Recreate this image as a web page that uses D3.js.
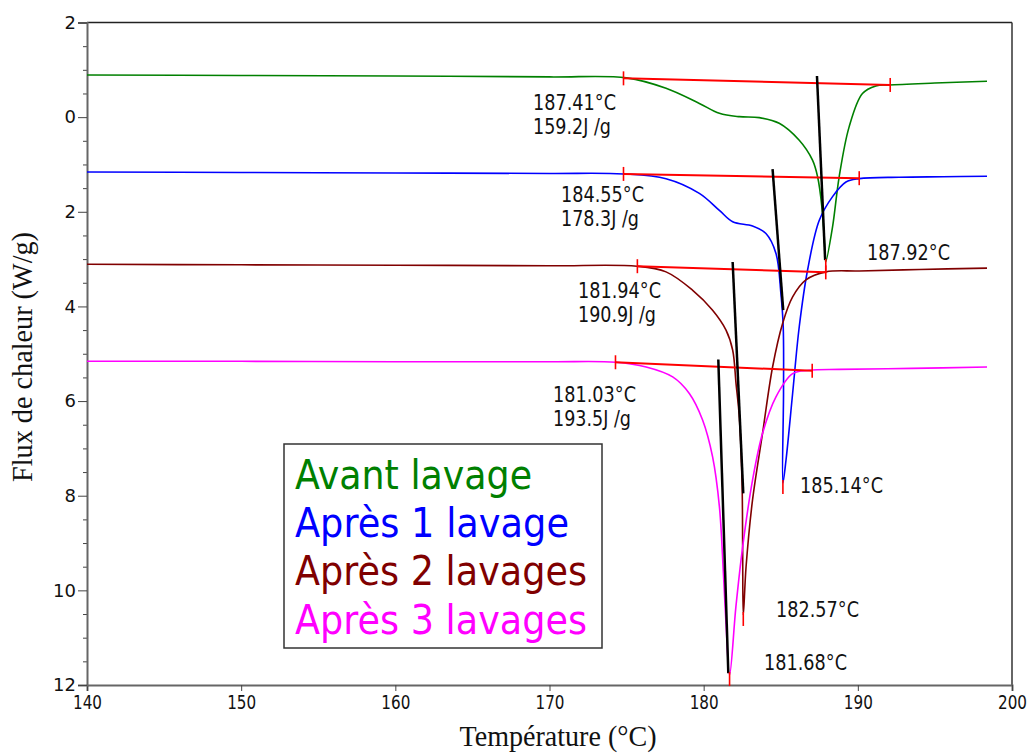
<!DOCTYPE html>
<html>
<head>
<meta charset="utf-8">
<script src="https://cdn.jsdelivr.net/npm/d3@7"></script>
<style>
  body { margin: 0; background: #fff; }
  svg { display: block; }
</style>
</head>
<body>
<div id="chart"></div>
<script>
// ----- data (temperature °C, heat flow W/g; flux axis drawn downward) -----
const avantPts = [
  [140, -0.89], [150, -0.88], [160, -0.87], [170, -0.85], [175, -0.83],
  [177.56, -0.61], [179.72, -0.29], [181.02, -0.08],
  [182.31, -0.01], [183.61, 0.01], [184.9, 0.13], [186.2, 0.49], [187.06, 0.91],
  [187.39, 1.26], [187.67, 1.9], [187.88, 2.87], [187.92, 3.06], [188.36, 2.32],
  [188.79, 1.26], [189.44, 0.2], [190.3, -0.5], [191.17, -0.66], [192.03, -0.68],
  [195, -0.72], [198.38, -0.76]
];
const apres1Pts = [
  [140, 1.16], [150, 1.17], [160, 1.18], [170, 1.19], [174.8, 1.2],
  [177.56, 1.3], [179.72, 1.61], [181.02, 1.97],
  [181.88, 2.21], [183.17, 2.3], [184.04, 2.46], [184.69, 2.88], [185.01, 3.73],
  [185.16, 4.43], [185.18, 5.83], [185.14, 7.73], [185.34, 7.25], [185.77, 5.84],
  [186.2, 4.43], [186.74, 3.23], [187.5, 2.18], [188.36, 1.68], [189.23, 1.37],
  [190.09, 1.3], [192.68, 1.27], [195.5, 1.26], [198.38, 1.25]
];
const apres2Pts = [
  [140, 3.11], [150, 3.12], [160, 3.13], [170, 3.14], [175.68, 3.15],
  [177.56, 3.27], [179.29, 3.66], [180.58, 4.08],
  [181.45, 4.5], [181.88, 4.92], [182.1, 5.63], [182.31, 6.33], [182.49, 7.74],
  [182.53, 9.15], [182.57, 10.52], [182.75, 9.5], [183.17, 8.09], [183.82, 6.68],
  [184.47, 5.28], [185.12, 4.36], [185.77, 3.8], [186.63, 3.44], [187.93, 3.27],
  [190.09, 3.25], [194, 3.22], [198.38, 3.19]
];
const apres3Pts = [
  [140, 5.16], [150, 5.16], [160, 5.17], [170, 5.17], [174.28, 5.18],
  [176.27, 5.28], [177.99, 5.49], [179.07, 5.84],
  [179.93, 6.4], [180.58, 7.18], [181.02, 8.23], [181.28, 9.64], [181.45, 10.7],
  [181.68, 11.79], [182.09, 10.35], [182.53, 9.08], [183.17, 7.67], [183.82, 6.68],
  [184.69, 5.91], [185.77, 5.42], [186.85, 5.35], [188.79, 5.33], [193.5, 5.31],
  [198.38, 5.28]
];

const seriesNames = ["Avant lavage", "Après 1 lavage", "Après 2 lavages", "Après 3 lavages"];
const seriesColors = ["#008000", "#0000ff", "#800000", "#ff00ff"];
const seriesPts = [avantPts, apres1Pts, apres2Pts, apres3Pts];

// integration baselines [T1, v1, T2, v2]
const baselines = [
  [174.8, -0.82, 192.1, -0.68],
  [174.8, 1.2, 190.09, 1.29],
  [175.7, 3.15, 187.92, 3.28],
  [174.28, 5.18, 187.04, 5.36]
];
// onset tangents [T1, v1, T2, v2]
const tangents = [
  [187.35, -0.87, 187.88, 3.02],
  [184.47, 1.1, 185.16, 4.08],
  [181.88, 3.06, 182.57, 7.95],
  [180.95, 5.12, 181.6, 11.75]
];
// peak markers [T, v]
const peaks = [[187.92, 3.06], [185.14, 7.73], [182.57, 10.52], [181.68, 11.79]];

const onsetLabels = ["187.41°C", "184.55°C", "181.94°C", "181.03°C"];
const enthalpyLabels = ["159.2J /g", "178.3J /g", "190.9J /g", "193.5J /g"];
const peakLabels = ["187.92°C", "185.14°C", "182.57°C", "181.68°C"];

const xTicks = [140, 150, 160, 170, 180, 190, 200];
const yTicks = [-2, 0, 2, 4, 6, 8, 10, 12];
const yMinor = d3.range(-2, 12.01, 0.5).filter(d => d % 2 !== 0);

// ----- layout -----
const w = 1031, h = 753;
const plotL = 87, plotR = 1012, plotT = 22.5, plotB = 685;

const svg = d3.select("#chart").append("svg")
  .attr("width", w)
  .attr("height", h);

const x = d3.scaleLinear().domain([140, 200]).range([plotL, plotR]);
const y = d3.scaleLinear().domain([-2, 12]).range([plotT, plotB]);

// ---------- frame ----------
svg.append("line")
  .attr("x1", plotL).attr("x2", plotR).attr("y1", plotT).attr("y2", plotT)
  .attr("stroke", "#222").attr("stroke-width", 1.5);
svg.append("line")
  .attr("x1", plotR).attr("x2", plotR).attr("y1", plotT).attr("y2", plotB)
  .attr("stroke", "#333").attr("stroke-width", 1.5);

// ---------- axes ----------
const xAxis = svg.append("g")
  .attr("transform", `translate(0,${plotB})`)
  .call(d3.axisBottom(x).tickValues(xTicks).tickSize(6).tickPadding(4).tickFormat(d3.format("d")));
xAxis.select(".domain").attr("stroke", "#666").attr("stroke-width", 2);
xAxis.selectAll(".tick line").attr("stroke", "#444");
xAxis.selectAll(".tick text")
  .attr("font-family", "DejaVu Sans")
  .attr("font-size", 20)
  .attr("fill", "#111")
  .attr("textLength", 29)
  .attr("lengthAdjust", "spacingAndGlyphs");

const yAxisMinor = svg.append("g")
  .attr("transform", `translate(${plotL},0)`)
  .call(d3.axisLeft(y).tickValues(yMinor).tickSize(4).tickFormat(""));
yAxisMinor.select(".domain").remove();
yAxisMinor.selectAll(".tick line").attr("stroke", "#444");

const yAxis = svg.append("g")
  .attr("transform", `translate(${plotL},0)`)
  .call(d3.axisLeft(y).tickValues(yTicks).tickSize(9).tickPadding(2).tickFormat(d => Math.abs(d)));
yAxis.select(".domain").attr("stroke", "#666").attr("stroke-width", 2);
yAxis.selectAll(".tick line").attr("stroke", "#444");
yAxis.selectAll(".tick text")
  .attr("font-family", "DejaVu Sans")
  .attr("font-size", 18)
  .attr("fill", "#111");

// axis titles
svg.append("text")
  .attr("x", 558).attr("y", 746)
  .attr("text-anchor", "middle")
  .attr("font-family", "Liberation Serif")
  .attr("font-size", 29)
  .attr("fill", "#111")
  .attr("textLength", 197)
  .attr("lengthAdjust", "spacingAndGlyphs")
  .text("Température (°C)");

svg.append("text")
  .attr("transform", "translate(32,357) rotate(-90)")
  .attr("text-anchor", "middle")
  .attr("font-family", "Liberation Serif")
  .attr("font-size", 29)
  .attr("fill", "#111")
  .attr("textLength", 250)
  .attr("lengthAdjust", "spacingAndGlyphs")
  .text("Flux de chaleur (W/g)");

// ---------- curves ----------
const line = d3.line()
  .x(d => x(d[0]))
  .y(d => y(d[1]))
  .curve(d3.curveCatmullRom.alpha(0.5));

seriesPts.forEach((pts, i) => {
  svg.append("path")
    .datum(pts)
    .attr("fill", "none")
    .attr("stroke", seriesColors[i])
    .attr("stroke-width", 1.6)
    .attr("d", line);
});

// ---------- baselines ----------
baselines.forEach(b => {
  svg.append("line")
    .attr("x1", x(b[0])).attr("y1", y(b[1]))
    .attr("x2", x(b[2])).attr("y2", y(b[3]))
    .attr("stroke", "#ff0000").attr("stroke-width", 2);
  [[b[0], b[1]], [b[2], b[3]]].forEach(p => {
    svg.append("line")
      .attr("x1", x(p[0])).attr("x2", x(p[0]))
      .attr("y1", y(p[1]) - 7).attr("y2", y(p[1]) + 7)
      .attr("stroke", "#ff0000").attr("stroke-width", 1.6);
  });
});

// ---------- tangents ----------
tangents.forEach(t => {
  svg.append("line")
    .attr("x1", x(t[0])).attr("y1", y(t[1]))
    .attr("x2", x(t[2])).attr("y2", y(t[3]))
    .attr("stroke", "#000").attr("stroke-width", 2.5);
});

// ---------- peak markers ----------
peaks.forEach(p => {
  svg.append("line")
    .attr("x1", x(p[0])).attr("x2", x(p[0]))
    .attr("y1", y(p[1]) - 3).attr("y2", y(p[1]) + 11)
    .attr("stroke", "#ff0000").attr("stroke-width", 1.6);
});

// ---------- annotations ----------
function note(px, py, str, len) {
  svg.append("text")
    .attr("x", px).attr("y", py)
    .attr("font-family", "DejaVu Sans")
    .attr("font-size", 21)
    .attr("fill", "#111")
    .attr("textLength", len)
    .attr("lengthAdjust", "spacingAndGlyphs")
    .text(str);
}
const onsetPos = [[533, 110], [561, 202], [578, 298], [553, 402]];
onsetPos.forEach((p, i) => {
  note(p[0], p[1], onsetLabels[i], 83);
  note(p[0], p[1] + 24, enthalpyLabels[i], 78);
});
const peakPos = [[867, 260], [800, 493], [776, 617], [764, 670]];
peakPos.forEach((p, i) => note(p[0], p[1], peakLabels[i], 83));

// ---------- legend ----------
const legend = svg.append("g");
legend.append("rect")
  .attr("x", 284).attr("y", 444)
  .attr("width", 318).attr("height", 204)
  .attr("fill", "#fff")
  .attr("stroke", "#333")
  .attr("stroke-width", 1.5);

const legendLen = [237, 274, 292, 292];
seriesNames.forEach((name, i) => {
  legend.append("text")
    .attr("x", 295)
    .attr("y", 489 + i * 48.2)
    .attr("font-family", "DejaVu Sans")
    .attr("font-size", 40)
    .attr("fill", seriesColors[i])
    .attr("textLength", legendLen[i])
    .attr("lengthAdjust", "spacingAndGlyphs")
    .text(name);
});
</script>
</body>
</html>
